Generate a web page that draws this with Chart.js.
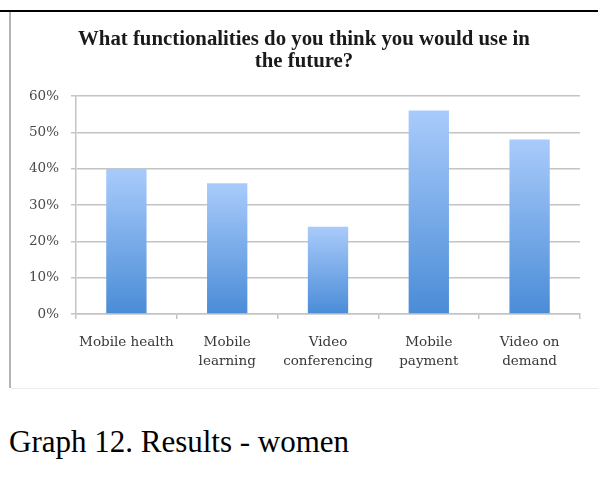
<!DOCTYPE html>
<html>
<head>
<meta charset="utf-8">
<script src="https://cdn.jsdelivr.net/npm/chart.js@4.4.1/dist/chart.umd.min.js"></script>
<style>
  html, body { margin: 0; padding: 0; background: #ffffff; }
  body { width: 605px; height: 488px; position: relative; overflow: hidden; }
  .rule-top { position: absolute; left: 0; top: 10px; width: 598px; height: 2px; background: #000; }
  .rule-left { position: absolute; left: 9px; top: 12px; width: 2px; height: 376px; background: #b4b4b4; }
  .rule-bottom { position: absolute; left: 11px; top: 388px; width: 587px; height: 1px; background: #ececec; }
  #wrap { position: absolute; left: 10px; top: 13px; width: 588px; height: 375px; }
  .caption { position: absolute; left: 9px; top: 426px; font-family: "Liberation Serif", "Times New Roman", serif;
             font-size: 31px; line-height: 31px; color: #000; white-space: nowrap; }
</style>
</head>
<body>
<div class="rule-top"></div>
<div class="rule-left"></div>
<div class="rule-bottom"></div>
<div id="wrap"><canvas id="chart" width="588" height="375"></canvas></div>
<div class="caption">Graph 12. Results - women</div>
<script>
// Survey answers: share of respondents (%) per functionality
const categories = [
  "Mobile health",
  ["Mobile", "learning"],
  ["Video", "conferencing"],
  ["Mobile", "payment"],
  ["Video on", "demand"]
];
const shares = [40, 36, 24, 56, 48];
const yTicks = [0, 10, 20, 30, 40, 50, 60];

const titleLines = ["What functionalities do you think you would use in", "the future?"];

// Each bar gets its own vertical gradient: light on top, deeper blue at the base
function barGradient(ctx) {
  const chart = ctx.chart;
  const area = chart.chartArea;
  const yScale = chart.scales.y;
  if (!area || !yScale || ctx.raw === undefined) return "#6fa6e8";
  const top = yScale.getPixelForValue(ctx.raw);
  const g = chart.ctx.createLinearGradient(0, top, 0, area.bottom);
  g.addColorStop(0, "#a9cbfb");
  g.addColorStop(1, "#4a8cd7");
  return g;
}

const gridColor = "#c4c4c4";

new Chart(document.getElementById("chart"), {
  type: "bar",
  data: {
    labels: categories,
    datasets: [{
      data: shares,
      backgroundColor: barGradient,
      borderWidth: 0,
      categoryPercentage: 1,
      barPercentage: 0.4
    }]
  },
  options: {
    responsive: false,
    animation: false,
    devicePixelRatio: 1,
    layout: { padding: { top: 0, right: 18, bottom: 0, left: 18 } },
    plugins: {
      legend: { display: false },
      tooltip: { enabled: false },
      title: {
        display: true,
        text: titleLines,
        color: "#1a1a1a",
        font: { family: "'Liberation Serif', serif", size: 20.8, weight: "bold", lineHeight: 1.07 },
        padding: { top: 15.3, bottom: 23.2 }
      }
    },
    scales: {
      x: {
        grid: {
          display: true,
          drawOnChartArea: false,
          drawTicks: true,
          tickLength: 5,
          color: gridColor,
          lineWidth: 1.5,
          offset: true
        },
        border: { display: true, color: gridColor, width: 1.5 },
        ticks: {
          color: "#383838",
          padding: 13.5,
          maxRotation: 0,
          autoSkip: false,
          font: { family: "'DejaVu Serif', serif", size: 13.5, lineHeight: 1.45 }
        },
        afterFit(scale) { scale.height = 74; }
      },
      y: {
        min: 0,
        max: 60,
        afterBuildTicks(scale) { scale.ticks = yTicks.map(v => ({ value: v })); },
        grid: {
          color: gridColor,
          lineWidth: 1.5,
          drawTicks: true,
          tickLength: 5
        },
        border: { display: true, color: gridColor, width: 1.5 },
        ticks: {
          color: "#4a4a4a",
          padding: 12,
          font: { family: "'DejaVu Serif', serif", size: 13.5 },
          callback: v => v + "%"
        },
        afterFit(scale) { scale.width = 48; }
      }
    }
  }
});
</script>
</body>
</html>
